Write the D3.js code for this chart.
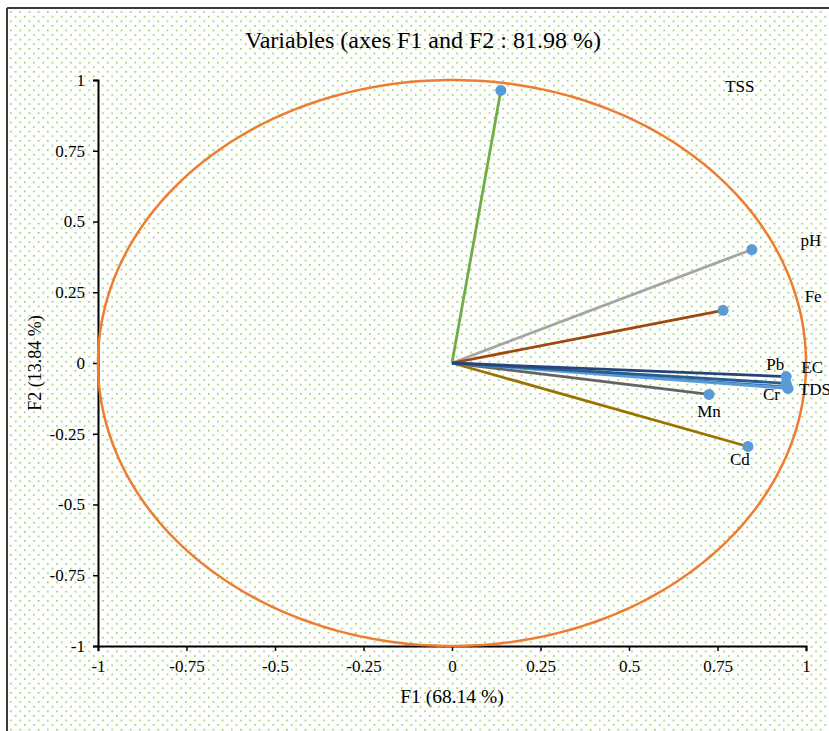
<!DOCTYPE html>
<html>
<head>
<meta charset="utf-8">
<script src="https://cdn.jsdelivr.net/npm/d3@7/dist/d3.min.js"></script>
<style>
  html, body { margin: 0; padding: 0; background: #fff; }
  svg { display: block; }
  text { font-family: "Liberation Serif", "Times New Roman", serif; fill: #000; }
</style>
</head>
<body>
<svg id="chart" width="829" height="731"></svg>
<script>
// ---- data ----
const variables = ["TSS", "pH", "Fe", "Pb", "EC", "TDS", "Cr", "Mn", "Cd"];
const f1Values  = [0.138, 0.847, 0.766, 0.944, 0.944, 0.949, 0.945, 0.726, 0.836];
const f2Values  = [0.963, 0.401, 0.186, -0.048, -0.072, -0.090, -0.082, -0.111, -0.295];
const tickValues = [-1, -0.75, -0.5, -0.25, 0, 0.25, 0.5, 0.75, 1];
const tickLabels = ["-1", "-0.75", "-0.5", "-0.25", "0", "0.25", "0.5", "0.75", "1"];
const titleText = "Variables (axes F1 and F2 : 81.98 %)";
const xTitle = "F1 (68.14 %)";
const yTitle = "F2 (13.84 %)";

// ---- styles / layout ----
const lineColors = {
  TSS: "#70ad47", pH: "#a5a5a5", Fe: "#9e480e", Pb: "#264478",
  EC: "#255e91", TDS: "#5b9bd5", Cr: "#4472c4", Mn: "#636363", Cd: "#997300"
};
// label offsets in pixels relative to the point (as placed in the reference)
const labelOffsets = {
  TSS: [239, -2], pH: [59, -7], Fe: [90, -12], Pb: [-11, -10],
  EC: [26, -14], TDS: [27, 3], Cr: [-15, 10], Mn: [0, 19], Cd: [-8, 15]
};

const svg = d3.select("#chart");
const W = 829, H = 731;

// background pattern
const defs = svg.append("defs");
const pat = defs.append("pattern")
  .attr("id", "dots").attr("patternUnits", "userSpaceOnUse")
  .attr("width", 9.2).attr("height", 9.2).attr("x", 1).attr("y", 2);
pat.append("rect").attr("x", 0).attr("y", 0).attr("width", 1.6).attr("height", 1.6).attr("fill", "#8fcd5c");
pat.append("rect").attr("x", 4.6).attr("y", 4.6).attr("width", 1.6).attr("height", 1.6).attr("fill", "#8fcd5c");

svg.append("rect").attr("width", W).attr("height", H).attr("fill", "#fff");
svg.append("rect").attr("x", 7).attr("y", 8).attr("width", W + 10).attr("height", H + 10)
  .attr("fill", "url(#dots)");
// frame border (top and left visible)
svg.append("line").attr("x1", 7).attr("y1", 8).attr("x2", W).attr("y2", 8)
  .attr("stroke", "#3a3a3a").attr("stroke-width", 2);
svg.append("line").attr("x1", 7).attr("y1", 8).attr("x2", 7).attr("y2", H)
  .attr("stroke", "#3a3a3a").attr("stroke-width", 2);

const x = d3.scaleLinear().domain([-1, 1]).range([98, 806]);
const y = d3.scaleLinear().domain([-1, 1]).range([646, 80]);

// title
svg.append("text").attr("x", 423).attr("y", 48).attr("text-anchor", "middle")
  .style("font-size", "24px").text(titleText);

// axes
const fmt = d => tickLabels[tickValues.indexOf(d)];
const xAxis = d3.axisBottom(x).tickValues(tickValues).tickFormat(fmt).tickSize(5).tickPadding(9);
const yAxis = d3.axisLeft(y).tickValues(tickValues).tickFormat(fmt).tickSize(5).tickPadding(8);

const gx = svg.append("g").attr("transform", `translate(0,${y(-1)})`).call(xAxis);
const gy = svg.append("g").attr("transform", `translate(${x(-1)},0)`).call(yAxis);
[gx, gy].forEach(g => {
  g.select(".domain").attr("stroke", "#000").attr("stroke-width", 2);
  g.selectAll(".tick line").attr("stroke", "#000").attr("stroke-width", 1.5);
  g.selectAll(".tick text").style("font-size", "17px")
    .style("font-family", "Liberation Serif, serif").attr("fill", "#000");
});

// axis titles
svg.append("text").attr("x", 452).attr("y", 703).attr("text-anchor", "middle")
  .style("font-size", "19.5px").text(xTitle);
svg.append("text").attr("transform", `translate(41,${y(0)}) rotate(-90)`)
  .attr("text-anchor", "middle").style("font-size", "18px").text(yTitle);

// correlation circle
const circle = d3.line().x(d => x(Math.cos(d))).y(d => y(Math.sin(d))).curve(d3.curveLinearClosed);
const angles = d3.range(0, 360, 1).map(a => a * Math.PI / 180);
svg.append("path").attr("d", circle(angles)).attr("fill", "none")
  .attr("stroke", "#ed7d31").attr("stroke-width", 2.5);

// vectors
const data = variables.map((v, i) => ({ name: v, f1: f1Values[i], f2: f2Values[i] }));
const drawOrder = ["TSS", "pH", "Fe", "Cd", "Mn", "Cr", "TDS", "EC", "Pb"];
const ordered = drawOrder.map(n => data.find(d => d.name === n));

svg.append("g").selectAll("line").data(ordered).join("line")
  .attr("x1", x(0)).attr("y1", y(0))
  .attr("x2", d => x(d.f1)).attr("y2", d => y(d.f2))
  .attr("stroke", d => lineColors[d.name])
  .attr("stroke-width", d => d.name === "Cr" ? 1.5 : 2.8);

svg.append("g").selectAll("circle").data(ordered).join("circle")
  .attr("cx", d => x(d.f1)).attr("cy", d => y(d.f2)).attr("r", 5.5)
  .attr("fill", "#5b9bd5");

svg.append("g").selectAll("text").data(data).join("text")
  .attr("x", d => x(d.f1) + labelOffsets[d.name][0])
  .attr("y", d => y(d.f2) + labelOffsets[d.name][1])
  .attr("text-anchor", "middle").attr("dominant-baseline", "middle")
  .style("font-size", "17px").text(d => d.name);
</script>
</body>
</html>
